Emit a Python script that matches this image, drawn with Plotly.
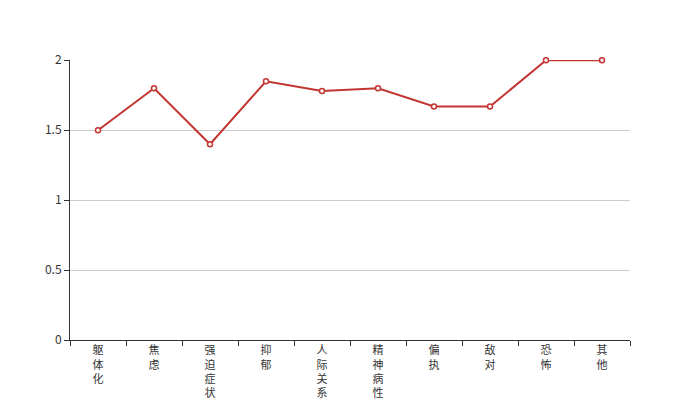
import plotly.graph_objects as go

categories = ["躯体化", "焦虑", "强迫症状", "抑郁", "人际关系敏感", "精神病性", "偏执", "敌对", "恐怖", "其他"]
values = [1.5, 1.8, 1.4, 1.85, 1.78, 1.8, 1.67, 1.67, 2.0, 2.0]
y_ticks = [0, 0.5, 1, 1.5, 2]
y_tick_labels = ["0", "0.5", "1", "1.5", "2"]

vertical_labels = ["<br>".join(list(c)) for c in categories]

fig = go.Figure()
fig.add_trace(go.Scatter(
    x=categories, y=values, mode="lines+markers",
    line=dict(color="#c23531", width=2),
    marker=dict(symbol="circle", size=5, color="white",
                line=dict(color="#c23531", width=1.5)),
    cliponaxis=False, hoverinfo="x+y",
))

# page body has an 8px margin, so the figure is offset by 8px
fig.update_layout(
    width=692, height=392,
    margin=dict(l=62, r=70, t=52, b=60, autoexpand=False),
    paper_bgcolor="white", plot_bgcolor="white",
    showlegend=False,
    font=dict(family="Noto Sans CJK SC, sans-serif", size=12, color="#333"),
)
fig.update_xaxes(
    type="category", categoryorder="array", categoryarray=categories,
    range=[-0.5, len(categories) - 0.5],
    tickmode="array", tickvals=categories, ticktext=vertical_labels,
    tickson="boundaries", ticks="outside", ticklen=5, tickcolor="#333",
    showline=True, linecolor="#333", linewidth=1,
    showgrid=False, zeroline=False, automargin=False,
    tickfont=dict(size=11, color="#333"),
)
fig.update_yaxes(
    range=[0, 2.002], tickmode="array", tickvals=y_ticks, ticktext=y_tick_labels,
    ticks="outside", ticklen=5, tickcolor="#333",
    showline=True, linecolor="#333", linewidth=1,
    showgrid=True, gridcolor="#ccc", gridwidth=1, zeroline=False, automargin=False,
    tickfont=dict(size=12, color="#333"),
)

fig.write_html("out.html")
